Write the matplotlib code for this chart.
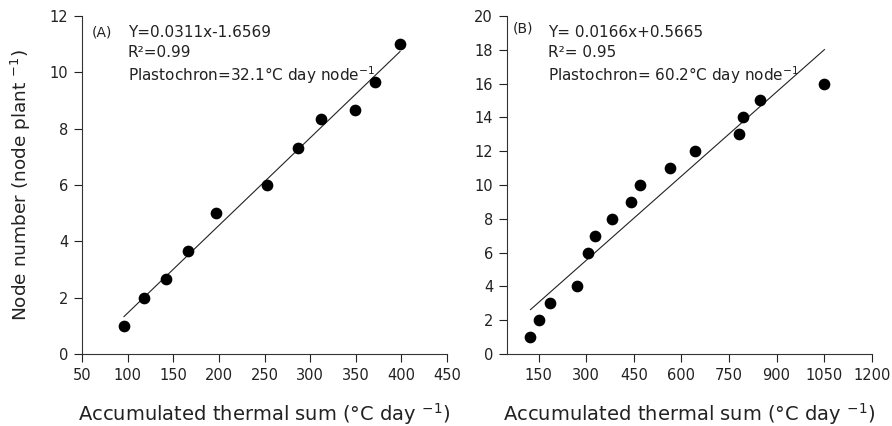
import matplotlib.pyplot as plt
import numpy as np

plt.rcParams['font.family'] = ['DejaVu Sans']

# panel A data
a_x = [96, 118, 142, 166.5, 196.5, 252.7, 286.4, 311.6, 348.8, 370.7, 398.5]
a_y = [1, 2, 2.67, 3.67, 5, 6, 7.33, 8.33, 8.67, 9.67, 11]
a_slope, a_icpt = 0.0311, -1.6569

# panel B data
b_x = [124, 151, 185, 271, 304, 328, 381, 440, 468, 563, 642, 780, 794, 847, 1051]
b_y = [1, 2, 3, 4, 6, 7, 8, 9, 10, 11, 12, 13, 14, 15, 16]
b_slope, b_icpt = 0.0166, 0.5665

a_xticks = [50, 100, 150, 200, 250, 300, 350, 400, 450]
a_yticks = [0, 2, 4, 6, 8, 10, 12]
b_xticks = [150, 300, 450, 600, 750, 900, 1050, 1200]
b_yticks = [0, 2, 4, 6, 8, 10, 12, 14, 16, 18, 20]

fig = plt.figure(figsize=(8.92, 4.26), dpi=100)
axA = fig.add_axes([82/892, 1-354/426, 365/892, 338/426])
axB = fig.add_axes([507/892, 1-354/426, 364.7/892, 338/426])

def style(ax):
	for s in ['top', 'right']:
		ax.spines[s].set_visible(False)
	for s in ['left', 'bottom']:
		ax.spines[s].set_linewidth(0.8)
		ax.spines[s].set_color('#333333')
	ax.tick_params(direction='out', length=6, width=0.8, labelsize=10.5, colors='#222222', pad=4)

def panel(ax, x, y, slope, icpt, lims, xt, yt):
	xs = np.array([min(x), max(x)])
	ax.plot(xs, slope*xs+icpt, color='#222222', lw=0.8)
	ax.scatter(x, y, s=55, color='black', zorder=3, clip_on=False)
	ax.set_xlim(*lims[0]); ax.set_ylim(*lims[1])
	ax.set_xticks(xt); ax.set_yticks(yt)
	style(ax)

panel(axA, a_x, a_y, a_slope, a_icpt, [(50, 450), (0, 12)], a_xticks, a_yticks)
panel(axB, b_x, b_y, b_slope, b_icpt, [(50, 1200), (0, 20)], b_xticks, b_yticks)

tk = dict(fontsize=11, color='#222222', va='center', ha='left')
axA.text(0.027, 0.95, '(A)', transform=axA.transAxes, fontsize=10, color='#222222', va='center', ha='left')
axA.text(0.126, 0.95, 'Y=0.0311x-1.6569', transform=axA.transAxes, **tk)
axA.text(0.126, 0.891, 'R²=0.99', transform=axA.transAxes, **tk)
axA.text(0.126, 0.825, 'Plastochron=32.1°C day node$^{-1}$', transform=axA.transAxes, **tk)

axB.text(0.016, 0.962, '(B)', transform=axB.transAxes, fontsize=10, color='#222222', va='center', ha='left')
axB.text(0.112, 0.95, 'Y= 0.0166x+0.5665', transform=axB.transAxes, **tk)
axB.text(0.112, 0.891, 'R²= 0.95', transform=axB.transAxes, **tk)
axB.text(0.112, 0.825, 'Plastochron= 60.2°C day node$^{-1}$', transform=axB.transAxes, **tk)

xl = 'Accumulated thermal sum (°C day $^{-1}$)'
axA.set_xlabel(xl, fontsize=14, labelpad=13, color='#222222')
axB.set_xlabel(xl, fontsize=14, labelpad=13, color='#222222')
axA.set_ylabel('Node number (node plant $^{-1}$)', fontsize=13.3, labelpad=12, color='#222222')

fig.savefig('out.png', dpi=100)
